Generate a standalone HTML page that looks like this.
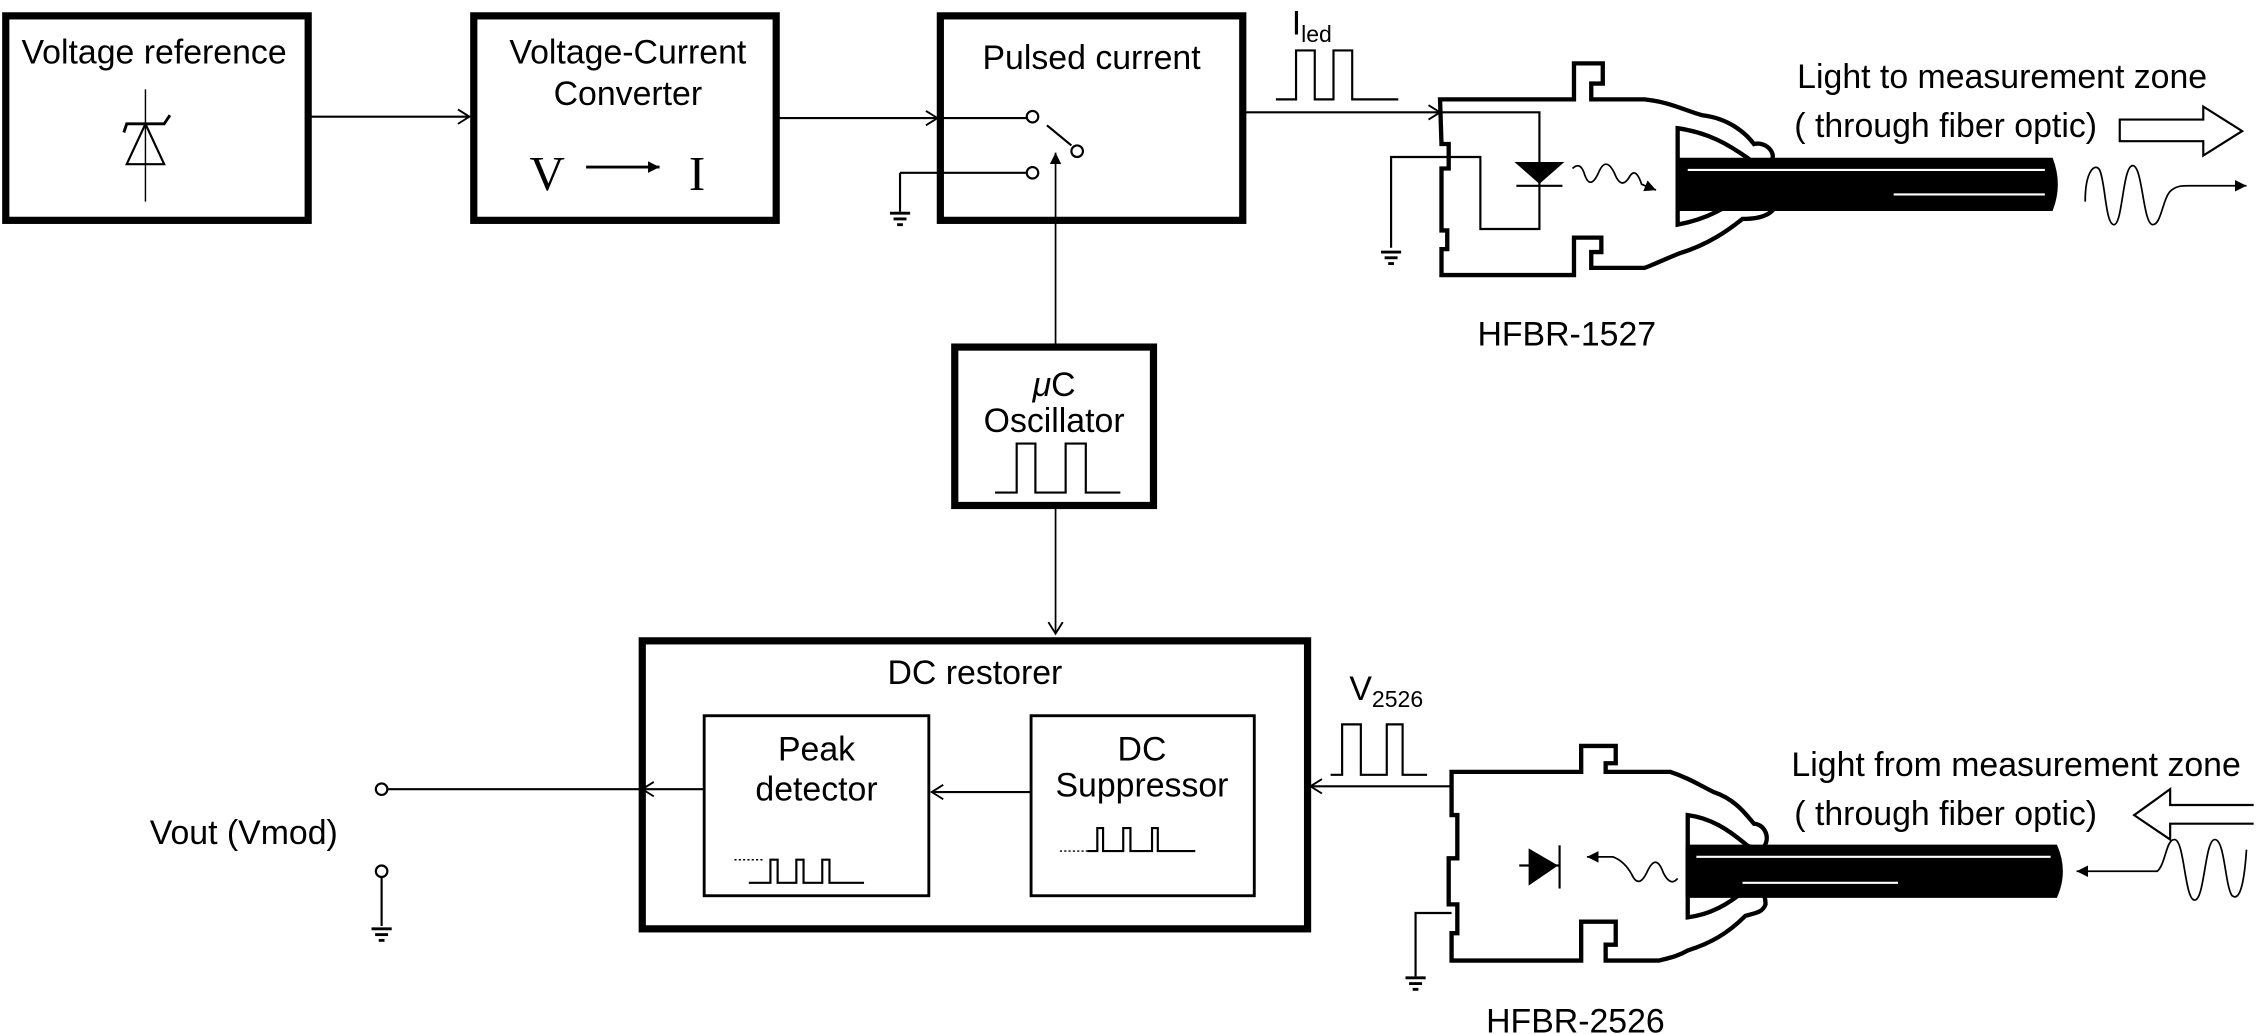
<!DOCTYPE html>
<html><head><meta charset="utf-8"><style>html,body{margin:0;padding:0;background:#fff}svg{display:block}text{font-family:"Liberation Sans",Arial,sans-serif;fill:#000}</style></head><body>
<svg width="2258" height="1034" viewBox="0 0 1568 718" xmlns="http://www.w3.org/2000/svg">
<defs>
<marker id="oa" markerWidth="12" markerHeight="12" refX="10" refY="6" orient="auto" markerUnits="userSpaceOnUse"><path d="M2,1 L10,6 L2,11" fill="none" stroke="#000" stroke-width="1.3"/></marker>
<marker id="fa" markerWidth="10" markerHeight="10" refX="8" refY="5" orient="auto" markerUnits="userSpaceOnUse"><path d="M0,1 L8,5 L0,9z" fill="#000"/></marker>
<g id="gnd"><line x1="-7" y1="0" x2="7" y2="0" stroke="#000" stroke-width="2"/><line x1="-4.5" y1="4" x2="4.5" y2="4" stroke="#000" stroke-width="2"/><line x1="-2" y1="8" x2="2" y2="8" stroke="#000" stroke-width="2"/></g>
</defs>
<g fill="none" stroke="#000">
<rect x="4" y="11" width="210" height="142" stroke-width="5"/>
<rect x="329" y="11" width="210" height="142" stroke-width="5"/>
<rect x="653" y="11" width="210" height="142" stroke-width="5"/>
<rect x="663" y="241" width="138" height="110" stroke-width="5"/>
<line x1="216" y1="81" x2="326" y2="81" stroke-width="1.5" marker-end="url(#oa)"/>
<line x1="541" y1="82" x2="651" y2="82" stroke-width="1.5" marker-end="url(#oa)"/>
<line x1="651" y1="82" x2="713" y2="82" stroke-width="1.5"/>
<line x1="101" y1="62" x2="101" y2="140" stroke-width="1"/>
<path d="M88,114 L114,114 L101,86 Z" stroke-width="1.5"/>
<path d="M86,92 L88,86 L114,86 L118,80" stroke-width="2"/>
<line x1="407" y1="116" x2="458" y2="116" stroke-width="2" marker-end="url(#fa)"/>
<circle cx="717" cy="81" r="4" stroke-width="1.5"/>
<circle cx="748" cy="105" r="4" stroke-width="1.5"/>
<circle cx="717" cy="120" r="4" stroke-width="1.5"/>
<line x1="727" y1="87" x2="744" y2="101" stroke-width="1.5"/>
<line x1="713" y1="120" x2="625" y2="120" stroke-width="1.5"/>
<line x1="625" y1="120" x2="625" y2="147" stroke-width="1.5"/>
<line x1="733" y1="241" x2="733" y2="106" stroke-width="1.2" marker-end="url(#fa)"/>
<path d="M691,342 H706 V308 H719 V342 H740 V308 H754 V342 H778" stroke-width="1.5"/>
<line x1="733" y1="353" x2="733" y2="440" stroke-width="1.2" marker-end="url(#oa)"/>
<path d="M886,69 H900 V35 H913 V69 H926 V35 H939 V69 H971" stroke-width="1.5"/>
<line x1="865" y1="78" x2="1000" y2="78" stroke-width="1.5" marker-end="url(#oa)"/>
<path d="M1000,69 H1093 V44 H1113 V58 H1105 V69 H1142 C1160,71 1168,76 1182,80 C1200,82 1212,92 1218,100 C1226,98 1234,106 1230,112 C1226,116 1218,114 1214,110 C1200,100 1186,92 1165,89 V156 C1186,152 1200,144 1214,132 C1220,128 1230,130 1234,140 C1232,150 1220,152 1210,152 C1200,160 1186,170 1166,176 C1156,180 1150,183 1142,186 H1105 V175 H1112 V165 H1093 V191 H1001 V173 H1005 V160 H1001 V117 H1006 V100 H1001 Z" stroke-width="3"/>
<path d="M1001,78 H1069 V159 H1028 V109 H966 V172" stroke-width="1.5"/>
<path d="M1053,113 H1085 L1069,127 Z" fill="#000" stroke-width="1"/>
<line x1="1053" y1="129" x2="1085" y2="129" stroke-width="1.5"/>
<path d="M1092,117 Q1097,112 1100,120 Q1104,133 1110,120 Q1115,108 1121,120 Q1126,133 1132,122 Q1136,116 1140,128 L1150,132" stroke-width="1.2" marker-end="url(#fa)"/>
<path d="M1165,110 H1425 Q1432,128 1425,146 H1165 Z" fill="#000"/>
<line x1="1172" y1="118" x2="1420" y2="118" stroke="#fff" stroke-width="1.5"/>
<line x1="1315" y1="135" x2="1420" y2="135" stroke="#fff" stroke-width="1.5"/>
<path d="M1472,83 H1530 V74 L1557,91 L1530,108 V98 H1472 Z" stroke-width="1.5"/>
<path d="M1448,140 C1448,118 1455,113 1458,118 C1462,126 1462,156 1468,156 C1474,156 1474,115 1481,115 C1488,115 1488,156 1495,156 C1501,156 1502,136 1508,132 C1512,129 1515,129 1520,129 L1560,129" stroke-width="1.2" marker-end="url(#fa)"/>
<rect x="446" y="445" width="462" height="200" stroke-width="5"/>
<rect x="489" y="497" width="156" height="125" stroke-width="2"/>
<rect x="716" y="497" width="155" height="125" stroke-width="2"/>
<line x1="716" y1="550" x2="647" y2="550" stroke-width="1.5" marker-end="url(#oa)"/>
<line x1="489" y1="548" x2="446" y2="548" stroke-width="1.5" marker-end="url(#oa)"/>
<line x1="446" y1="548" x2="269" y2="548" stroke-width="1.5"/>
<circle cx="265" cy="548" r="4" stroke-width="1.5"/>
<circle cx="265" cy="605" r="4" stroke-width="1.5"/>
<line x1="265" y1="609" x2="265" y2="643" stroke-width="1.5"/>
<path d="M510,597 H530" stroke-width="1" stroke-dasharray="1.5,1.5"/>
<path d="M520,613 H535 V597 H540 V613 H553 V597 H558 V613 H571 V597 H576 V613 H600" stroke-width="1.5"/>
<path d="M736,591 H755" stroke-width="1" stroke-dasharray="1.5,1.5"/>
<path d="M755,591 H762 V575 H766 V591 H780 V575 H785 V591 H800 V575 H804 V591 H830" stroke-width="1.5"/>
<path d="M924,538 H932 V503 H945 V538 H963 V503 H974 V538 H991" stroke-width="1.5"/>
<line x1="1008" y1="546" x2="910" y2="546" stroke-width="1.5" marker-end="url(#oa)"/>
<path d="M1008,536 H1098 V518 H1122 V530 H1115 V536 H1160 C1172,540 1180,545 1190,550 C1205,555 1212,565 1218,572 C1224,572 1230,580 1225,588 C1220,590 1214,588 1212,586 C1200,576 1188,568 1172,566 V637 C1188,635 1200,628 1212,618 C1220,614 1226,618 1226,628 C1224,634 1218,634 1212,636 C1200,648 1188,655 1172,660 C1165,664 1160,665 1152,667 H1115 V656 H1122 V640 H1098 V667 H1008 V648 H1012 V628 H1006 V596 H1012 V566 H1008 Z" stroke-width="3"/>
<path d="M1008,634 H983 V678" stroke-width="1.5"/>
<path d="M1062,590 L1081,601 L1062,614 Z" fill="#000" stroke-width="1"/>
<line x1="1083" y1="587" x2="1083" y2="617" stroke-width="1.5"/>
<line x1="1055" y1="601" x2="1083" y2="601" stroke-width="1.5"/>
<path d="M1165,610 Q1160,616 1155,606 Q1150,592 1144,605 Q1138,618 1133,607 Q1128,598 1120,595 L1102,595" stroke-width="1.2" marker-end="url(#fa)"/>
<path d="M1171,587 H1428 Q1436,605 1428,623 H1171 Z" fill="#000"/>
<line x1="1178" y1="595" x2="1424" y2="595" stroke="#fff" stroke-width="1.5"/>
<line x1="1210" y1="613" x2="1318" y2="613" stroke="#fff" stroke-width="1.5"/>
<path d="M1565,559 H1507 V548 L1482,566 L1507,583 V572 H1565" stroke-width="1.5"/>
<path d="M1560,590 C1558,620 1554,625 1550,622 C1545,615 1545,583 1538,583 C1531,583 1531,625 1524,625 C1517,625 1517,583 1510,583 C1504,583 1504,600 1498,605 L1442,605" stroke-width="1.2" marker-end="url(#fa)"/>
</g>
<use href="#gnd" x="625" y="148"/>
<use href="#gnd" x="966" y="175"/>
<use href="#gnd" x="265" y="645"/>
<use href="#gnd" x="983" y="679"/>
<g font-size="23.5">
<text x="107" y="44" text-anchor="middle">Voltage reference</text>
<text x="436" y="44" text-anchor="middle">Voltage-Current</text>
<text x="436" y="73" text-anchor="middle">Converter</text>
<text x="380" y="132" text-anchor="middle" font-size="34" style="font-family:'Liberation Serif',serif">V</text>
<text x="484" y="132" text-anchor="middle" font-size="34" style="font-family:'Liberation Serif',serif">I</text>
<text x="758" y="48" text-anchor="middle">Pulsed current</text>
<text x="732" y="275" text-anchor="middle"><tspan font-style="italic">μ</tspan>C</text>
<text x="732" y="300" text-anchor="middle">Oscillator</text>
<text x="897" y="24">I<tspan font-size="16" dy="5">led</tspan></text>
<text x="1248" y="61">Light to measurement zone</text>
<text x="1246" y="95">( through fiber optic)</text>
<text x="1088" y="240" text-anchor="middle">HFBR-1527</text>
<text x="677" y="475" text-anchor="middle">DC restorer</text>
<text x="567" y="528" text-anchor="middle">Peak</text>
<text x="567" y="556" text-anchor="middle">detector</text>
<text x="793" y="528" text-anchor="middle">DC</text>
<text x="793" y="553" text-anchor="middle">Suppressor</text>
<text x="104" y="586">Vout (Vmod)</text>
<text x="937" y="486">V<tspan font-size="16" dy="5">2526</tspan></text>
<text x="1244" y="539">Light from measurement zone</text>
<text x="1246" y="573">( through fiber optic)</text>
<text x="1094" y="717" text-anchor="middle">HFBR-2526</text>
</g>
</svg>
</body></html>
